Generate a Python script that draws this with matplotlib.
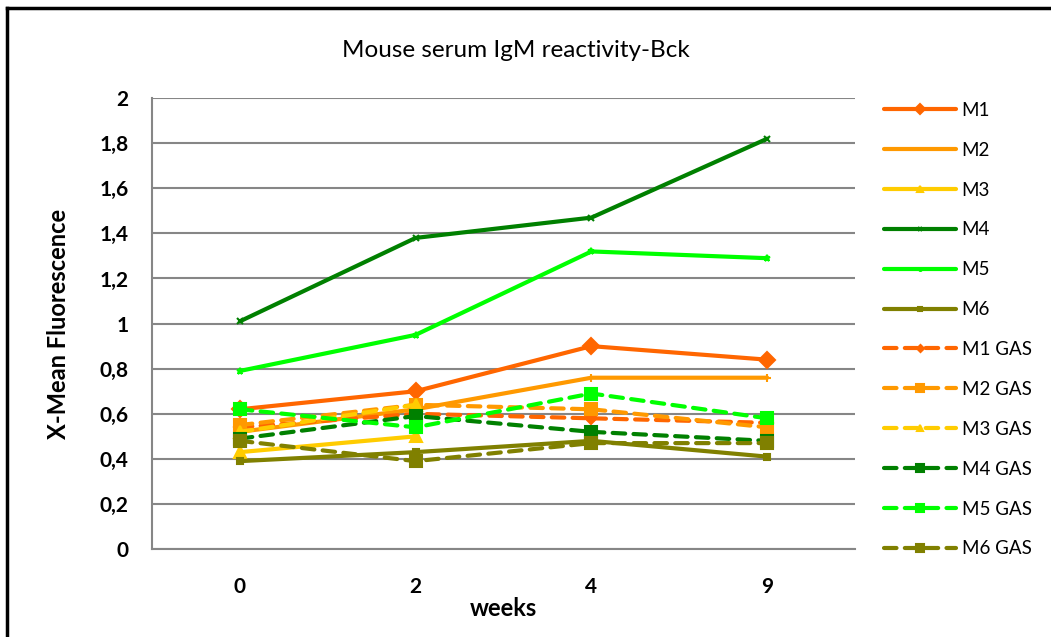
import numpy as np
import matplotlib
matplotlib.use("Agg")
import matplotlib.pyplot as plt
from matplotlib.lines import Line2D

plt.rcParams['font.family'] = ['Lato', 'DejaVu Sans']

weeks = ["0", "2", "4", "9"]

m1 = [0.62, 0.70, 0.90, 0.84]
m2 = [0.52, 0.62, 0.76, 0.76]
m3 = [0.43, 0.50, np.nan, np.nan]
m4 = [1.01, 1.38, 1.47, 1.82]
m5 = [0.79, 0.95, 1.32, 1.29]
m6 = [0.39, 0.43, 0.48, 0.41]
m1_gas = [0.54, 0.60, 0.58, 0.56]
m2_gas = [0.55, 0.64, 0.62, 0.54]
m3_gas = [0.52, 0.64, np.nan, np.nan]
m4_gas = [0.49, 0.59, 0.52, 0.48]
m5_gas = [0.62, 0.54, 0.69, 0.58]
m6_gas = [0.48, 0.39, 0.47, 0.47]

names = ["M1", "M2", "M3", "M4", "M5", "M6",
         "M1 GAS", "M2 GAS", "M3 GAS", "M4 GAS", "M5 GAS", "M6 GAS"]
series = [m1, m2, m3, m4, m5, m6, m1_gas, m2_gas, m3_gas, m4_gas, m5_gas, m6_gas]

colors = ["#FF6600", "#FF9900", "#FFCC00", "#008000", "#00FF00", "#808000"] * 2
markers = ["D", "+", "^", "x", "*", "s", "D", "s", "^", "s", "s", "s"]
msizes = [8, 6, 8, 5, 5, 4, 6, 9, 8, 9, 9, 9]

fig = plt.figure(figsize=(10.51, 6.37), dpi=100)
ax = fig.add_axes([0.1446, 0.138, 0.669, 0.708])

x = np.arange(len(weeks))
for i, (name, vals) in enumerate(zip(names, series)):
    ls = "-" if i < 6 else (0, (3, 2))
    ax.plot(x, vals, color=colors[i], linestyle=ls, linewidth=3,
            marker=markers[i], markersize=msizes[i], markeredgewidth=1.5,
            markeredgecolor=colors[i], label=name,
            dash_capstyle="round", solid_capstyle="round")

ax.set_xlim(-0.5, 3.5)
ax.set_ylim(0, 2)
ax.set_xticks(x)
ax.set_xticklabels(weeks)
yt = np.arange(0, 2.01, 0.2)
ax.set_yticks(yt)
ax.set_yticklabels([("%g" % round(v, 1)).replace(".", ",") for v in yt])
ax.yaxis.grid(True, color="#868686", linewidth=1.5)
ax.set_axisbelow(True)
for s in ["top", "right"]:
    ax.spines[s].set_visible(False)
for s in ["left", "bottom"]:
    ax.spines[s].set_color("#868686")
    ax.spines[s].set_linewidth(1.5)
ax.tick_params(length=0, labelsize=15)
ax.tick_params(axis="y", pad=17)
ax.tick_params(axis="x", pad=20)
for lab in ax.get_xticklabels() + ax.get_yticklabels():
    lab.set_fontweight("bold")

ax.set_xlabel("weeks", fontsize=17, fontweight="bold", labelpad=0)
ax.set_ylabel("X-Mean Fluorescence", fontsize=17, fontweight="bold", labelpad=21)
fig.text(0.491, 0.921, "Mouse serum IgM reactivity-Bck", ha="center", va="center",
         fontsize=17.5)

fig.legend(loc="upper left", bbox_to_anchor=(0.834, 0.852), frameon=False,
           fontsize=13.5, handlelength=3.84, labelspacing=1.22, handletextpad=0.3,
           borderaxespad=0, markerscale=0.6)

fig.add_artist(Line2D([0.0065, 1.0], [0.987, 0.987], color="black", linewidth=2.5,
                      transform=fig.transFigure))
fig.add_artist(Line2D([0.0065, 0.0065], [0.0, 0.987], color="black", linewidth=2.5,
                      transform=fig.transFigure))

fig.savefig("out.png", dpi=100)
